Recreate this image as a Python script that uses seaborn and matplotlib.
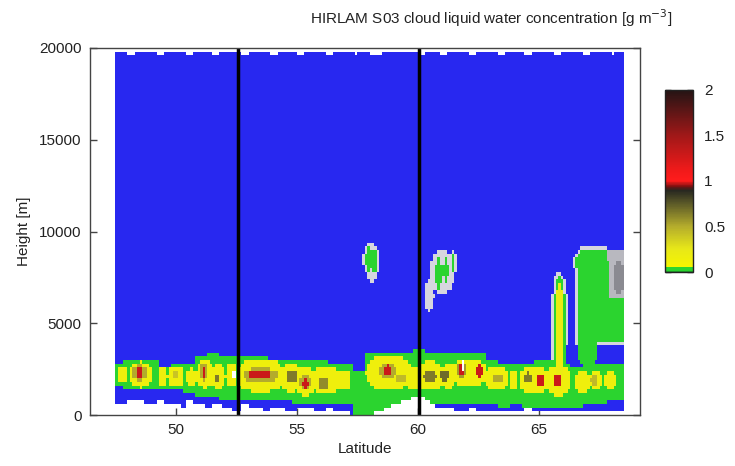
import numpy as np
import pandas as pd
import matplotlib
matplotlib.use("Agg")
import matplotlib.pyplot as plt
from matplotlib.colors import LinearSegmentedColormap, ListedColormap
import seaborn as sns

# ---------------- data ----------------
title = "HIRLAM S03 cloud liquid water concentration [g m$^{-3}$]"
x_label = "Latitude"
y_label = "Height [m]"
x_ticks = [50, 55, 60, 65]
y_ticks = [0, 5000, 10000, 15000, 20000]
cbar_ticks = [0, 0.5, 1, 1.5, 2]
cbar_labels = ["0", "0.5", "1", "1.5", "2"]
track_lines = [52.56, 60.04]          # black vertical lines (latitude)
lat_range = [46.45, 69.17]

# curtain segments (latitude edges) with top / bottom of the data (m)
seg_edges = [47.5, 48.0, 49.2, 50.4, 51.5, 52.7, 53.9, 55.0, 56.2, 57.4, 58.0,
             60.04, 60.9, 62.1, 63.3, 64.4, 65.6, 66.8, 68.0, 68.5]
seg_top_left = [19800, 19650, 19650, 19650, 19650, 19650, 19650, 19650, 19650, 19650,
                19650, 19650, 19650, 19650, 19650, 19650, 19650, 19650, 19650]
seg_top_right = [19850, 19850, 19850, 19850, 19850, 19850, 19850, 19850, 19850, 19850,
                 19850, 19850, 19850, 19850, 19850, 19850, 19850, 19850, 19850]
seg_bot_left = [700, 900, 800, 800, 700, 600, 500, 500, 400, 100,
                0, 1100, 400, 350, 300, 350, 300, 250, 200]
seg_bot_right = [650, 550, 450, 400, 100, 200, 150, 150, 50, 0,
                 1100, 300, 200, 150, 100, 150, 100, 100, 150]

# low cloud layer: extent of the green (low LWC) band per latitude node
layer_lat = [47.5, 48.0, 48.5, 49.0, 49.5, 50.0, 50.5, 51.0, 51.5, 52.0, 52.5,
             53.0, 53.5, 54.0, 54.5, 55.0, 55.5, 56.0, 56.5, 57.0, 57.5, 58.0,
             58.5, 59.0, 59.5, 60.0, 60.5, 61.0, 61.5, 62.0, 62.5, 63.0, 63.5,
             64.0, 64.5, 65.0, 65.5, 66.0, 66.5, 67.0, 67.5, 68.0, 68.5]
layer_top = [2700, 2900, 3000, 2900, 2600, 2800, 2800, 3100, 3400, 3200, 3100,
             3200, 3100, 3000, 2900, 2900, 2900, 2900, 2800, 2700, 2300, 3300,
             3400, 3400, 3300, 3500, 3400, 3300, 3300, 3400, 3300, 3000, 2800,
             2800, 2800, 2900, 3000, 2700, 2600, 2700, 2800, 2800, 2700]
layer_base = [1700, 1500, 1400, 1400, 1350, 1400, 1200, 1100, 1000, 900, 800,
              900, 900, 900, 800, 700, 700, 700, 700, 600, 100, 0,
              0, 0, 0, 0, 600, 700, 600, 600, 600, 600, 500,
              600, 500, 500, 400, 400, 500, 600, 700, 800, 900]
green_value = 0.03

# yellow cloud cells (lat, height, half-width lat, half-height m, LWC)
cell_lat = [47.8, 48.55, 49.45, 50.0, 50.65, 51.2, 51.75, 52.3, 53.5, 54.75, 55.35,
            56.2, 56.9, 58.8, 59.8, 60.5, 61.25, 62.1, 63.25, 63.95, 64.8, 65.8,
            66.8, 67.35, 67.95, 65.85]
cell_h = [2150, 2200, 2100, 2100, 2050, 2250, 2100, 2200, 2150, 2050, 1850,
          1900, 1900, 2300, 2000, 2150, 2100, 2300, 2000, 1900, 1900, 1850,
          1850, 1900, 1900, 4300]
cell_dlat = [0.25, 0.45, 0.20, 0.30, 0.22, 0.30, 0.30, 0.25, 0.95, 0.40, 0.38,
             0.50, 0.30, 0.95, 0.30, 0.50, 0.28, 0.70, 0.45, 0.20, 0.60, 0.50,
             0.30, 0.25, 0.25, 0.18]
cell_dh = [400, 700, 450, 600, 450, 800, 700, 700, 900, 800, 800,
           800, 600, 900, 700, 800, 700, 800, 650, 500, 750, 800,
           600, 500, 500, 2800]
cell_val = [0.15, 0.15, 0.15, 0.15, 0.15, 0.15, 0.15, 0.15, 0.15, 0.15, 0.15,
            0.15, 0.15, 0.15, 0.15, 0.15, 0.15, 0.15, 0.15, 0.15, 0.15, 0.15,
            0.15, 0.15, 0.15, 0.2]

# denser cloud cores (lat, height, half-width lat, half-height m, LWC g m-3)
core_lat = [48.5, 48.5, 50.0, 51.15, 51.15, 51.7, 53.5, 53.45, 54.8, 55.35, 55.35,
            56.1, 58.75, 58.75, 59.3, 60.5, 61.1, 61.8, 61.8, 62.55, 63.3, 64.55,
            65.05, 65.75, 67.3]
core_h = [2300, 2350, 2200, 2350, 2350, 2000, 2150, 2200, 2050, 1750, 1750,
          1750, 2400, 2450, 2000, 2100, 2150, 2450, 2500, 2400, 2000, 2050,
          1900, 1900, 1900]
core_dlat = [0.28, 0.15, 0.15, 0.18, 0.10, 0.15, 0.70, 0.45, 0.25, 0.22, 0.12,
             0.22, 0.35, 0.18, 0.18, 0.28, 0.18, 0.22, 0.13, 0.14, 0.18, 0.18,
             0.14, 0.14, 0.15]
core_dh = [450, 300, 250, 450, 300, 300, 450, 280, 350, 400, 250,
           350, 450, 300, 250, 350, 350, 450, 350, 300, 300, 300,
           300, 300, 250]
core_val = [0.5, 1.3, 0.4, 0.5, 1.3, 0.65, 0.5, 1.3, 0.65, 0.5, 1.3,
            0.6, 0.5, 1.3, 0.45, 0.65, 0.7, 0.55, 1.3, 1.3, 0.5, 0.65,
            1.3, 1.3, 0.45]

# mid-level low-LWC (green) clouds, ellipses
mid_lat = [57.97, 58.2, 60.85, 61.15, 61.45, 65.85, 66.75, 67.0]
mid_h = [8500, 8400, 7700, 7900, 8300, 4600, 8300, 3600]
mid_dlat = [0.13, 0.12, 0.14, 0.12, 0.09, 0.26, 0.22, 0.45]
mid_dh = [700, 650, 800, 700, 500, 3050, 600, 900]
# mid-level green mass, rectangles (lat0, lat1, h0, h1)
box_lat0 = [66.6, 66.8, 67.85]
box_lat1 = [67.85, 67.75, 68.5]
box_h0 = [4000, 8500, 4000]
box_h1 = [8400, 9000, 6400]

# grey haze around clouds (lat, height, half-width, half-height, grey level)
haze_lat = [58.1, 61.0, 60.45, 65.8, 68.3]
haze_h = [8300, 7800, 6500, 4700, 7500]
haze_dlat = [0.28, 0.55, 0.2, 0.32, 0.22]
haze_dh = [1100, 1200, 800, 3200, 900]
haze_val = [0.15, 0.15, 0.15, 0.15, 0.6]
# grey patch at the right end (lat0, lat1, h0, h1, grey level)
patch_lat0 = [67.85]
patch_lat1 = [68.5]
patch_h0 = [6400]
patch_h1 = [9000]
patch_val = [0.3]

# missing (white) pixels inside the low layer
gap_lat = [52.4, 61.85]
gap_h = [2200, 2650]

# ---------------- grid ----------------
LAT0, DLAT, NLAT = 47.5, 0.1, 210
DH, NH = 200, 100
lat = LAT0 + DLAT * (np.arange(NLAT) + 0.5)
hgt = DH * (np.arange(NH) + 0.5)
LAT, HGT = np.meshgrid(lat, hgt)


def ellipse(lc, hc, dl, dh, p=2.0):
    return np.abs((LAT - lc) / dl) ** p + np.abs((HGT - hc) / dh) ** p <= 1.0


def box(l0, l1, h0, h1):
    return (LAT >= l0) & (LAT <= l1) & (HGT >= h0) & (HGT <= h1)


valid = np.zeros((NH, NLAT), bool)
for i in range(len(seg_edges) - 1):
    a, b = seg_edges[i], seg_edges[i + 1]
    cols = (lat >= a) & (lat < b)
    f = (lat[cols] - a) / (b - a)
    top = seg_top_left[i] + f * (seg_top_right[i] - seg_top_left[i])
    bot = seg_bot_left[i] + f * (seg_bot_right[i] - seg_bot_left[i])
    valid[:, cols] = (hgt[:, None] >= bot[None, :]) & (hgt[:, None] <= top[None, :])

node = np.abs(lat[:, None] - np.array(layer_lat)[None, :]).argmin(axis=1)
cloud = np.zeros((NH, NLAT))
cloud[(HGT >= np.array(layer_base)[node]) & (HGT <= np.array(layer_top)[node])] = green_value
for lc, hc, dl, dh in zip(mid_lat, mid_h, mid_dlat, mid_dh):
    m = ellipse(lc, hc, dl, dh)
    cloud[m] = np.maximum(cloud[m], green_value)
for l0, l1, h0, h1 in zip(box_lat0, box_lat1, box_h0, box_h1):
    m = box(l0, l1, h0, h1)
    cloud[m] = np.maximum(cloud[m], green_value)
for lc, hc, dl, dh, v in zip(cell_lat, cell_h, cell_dlat, cell_dh, cell_val):
    m = ellipse(lc, hc, dl, dh, 2.6)
    cloud[m] = np.maximum(cloud[m], v)
for lc, hc, dl, dh, v in zip(core_lat, core_h, core_dlat, core_dh, core_val):
    m = ellipse(lc, hc, dl, dh)
    cloud[m] = np.maximum(cloud[m], v)

has = cloud > 0
ring = has.copy()
ring[1:] |= has[:-1]
ring[:-1] |= has[1:]
ring[:, 1:] |= has[:, :-1]
ring[:, :-1] |= has[:, 1:]
grey = np.zeros((NH, NLAT))
grey[ring & ~has & (HGT > 3700)] = 0.15
for l0, l1, h0, h1, v in zip(patch_lat0, patch_lat1, patch_h0, patch_h1, patch_val):
    m = box(l0, l1, h0, h1) & ~has
    grey[m] = np.maximum(grey[m], v)
for lc, hc, dl, dh, v in zip(haze_lat, haze_h, haze_dlat, haze_dh, haze_val):
    m = ellipse(lc, hc, dl, dh) & ~has
    grey[m] = np.maximum(grey[m], v)

for lc, hc in zip(gap_lat, gap_h):
    valid[ellipse(lc, hc, 0.06, 300)] = False

bg = np.where(valid, grey, np.nan)
cloud_mask = ~(valid & has)

# ---------------- plot ----------------
sns.set_theme(style="white")
plt.rcParams["font.family"] = ["Liberation Sans", "DejaVu Sans"]

fig = plt.figure(figsize=(7.35, 4.66), dpi=100)
ax = fig.add_axes([0.1224, 0.1094, 0.7483, 0.7876])
cax = fig.add_axes([0.9048, 0.4163, 0.0381, 0.3906])

grey_levels = np.linspace(0.84, 0.30, 10)
bg_cmap = ListedColormap(["#2828f0"] + [(g, g, min(g + 0.03, 1.0)) for g in grey_levels])
clw_cmap = LinearSegmentedColormap.from_list("clw", [
    (0.0, "#1f9e28"), (0.008, "#2bd42f"), (0.024, "#2bd42f"), (0.026, "#f5f500"),
    (0.125, "#e8e818"), (0.25, "#b4ac2c"), (0.375, "#5c5a28"), (0.45, "#262620"),
    (0.47, "#7a1010"), (0.5, "#ff1c1c"), (0.56, "#f01a1a"), (0.75, "#a01818"),
    (1.0, "#241414")])

sns.heatmap(pd.DataFrame(bg), ax=ax, cmap=bg_cmap, vmin=0, vmax=1, cbar=False,
            xticklabels=False, yticklabels=False)
sns.heatmap(pd.DataFrame(cloud), mask=cloud_mask, ax=ax, cmap=clw_cmap, vmin=0, vmax=2,
            cbar_ax=cax, cbar_kws={"ticks": cbar_ticks},
            xticklabels=False, yticklabels=False)

for lt in track_lines:
    ax.axvline((lt - LAT0) / DLAT, color="black", lw=2.5)

ax.set_xlim((lat_range[0] - LAT0) / DLAT, (lat_range[1] - LAT0) / DLAT)
ax.set_ylim(0, NH)
ax.set_xticks([(v - LAT0) / DLAT for v in x_ticks])
ax.set_xticklabels([str(v) for v in x_ticks], rotation=0)
ax.set_yticks([v / DH for v in y_ticks])
ax.set_yticklabels([str(v) for v in y_ticks], rotation=0)
ax.tick_params(direction="in", length=5, width=1, color="#444", labelsize=11,
               labelcolor="#222", left=True, right=True, bottom=True, top=False, pad=6)
for s in ax.spines.values():
    s.set_visible(True)
    s.set_color("#444")
    s.set_linewidth(1)
ax.set_xlabel(x_label, fontsize=11, color="#222", labelpad=3)
ax.set_ylabel(y_label, fontsize=11, color="#222", labelpad=6)

cbar = ax.collections[-1].colorbar
cbar.set_ticks(cbar_ticks)
cbar.set_ticklabels(cbar_labels)
cbar.outline.set_edgecolor("#222")
cbar.outline.set_linewidth(1)
cax.tick_params(direction="in", length=4, width=1, color="#222", left=True, right=True,
                labelleft=False, labelright=True, labelsize=11, labelcolor="#222", pad=8)

fig.text(0.914, 0.961, title, ha="right", va="center", fontsize=11, color="#222")

fig.savefig("out.png", dpi=100)
